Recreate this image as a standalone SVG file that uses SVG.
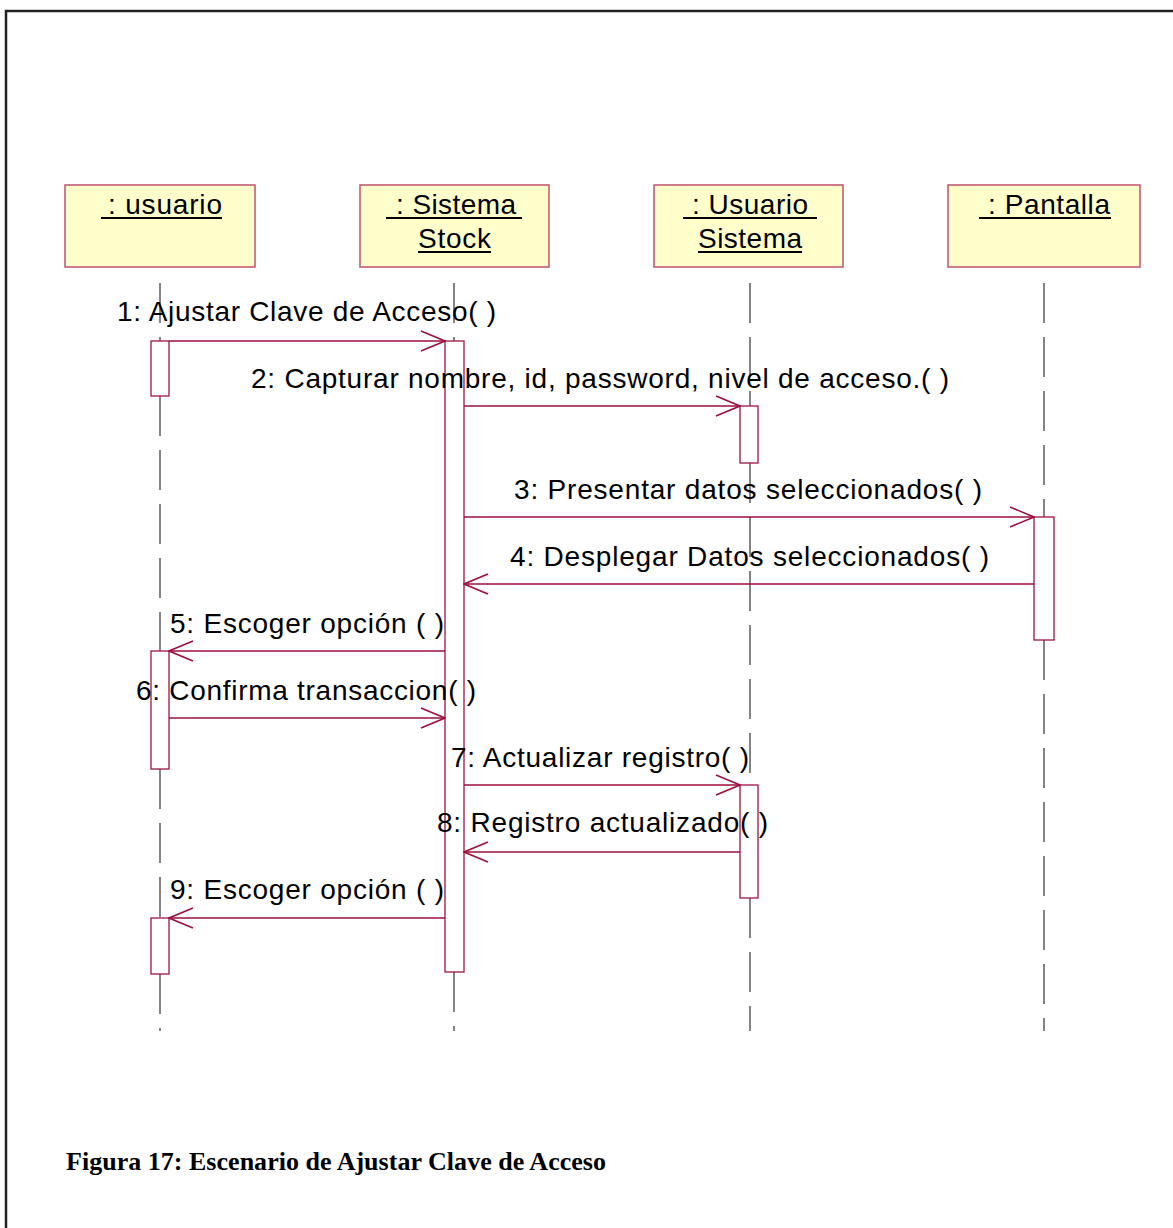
<svg xmlns="http://www.w3.org/2000/svg" width="1173" height="1228" viewBox="0 0 1173 1228">
  <defs>
    <style>
      .frame { fill: none; stroke: #222; stroke-width: 2.5; }
      .obj rect { fill: #FFFFCC; stroke: #C2506F; stroke-width: 1.5; }
      .obj text { font-family: "Liberation Sans", Arial, sans-serif; font-size: 28px; fill: #000; }
      .ul { stroke: #000; stroke-width: 2; }
      .life { stroke: #444; stroke-width: 1.3; stroke-dasharray: 40 14; fill: none; }
      .act { fill: #FFFFFF; stroke: #9E1442; stroke-width: 1.3; }
      .msg { stroke: #9C0E3A; stroke-width: 1.4; fill: none; }
      .lbl { font-family: "Liberation Sans", Arial, sans-serif; font-size: 28px; fill: #000; }
      .caption { font-family: "Liberation Serif", "Times New Roman", serif; font-weight: bold; font-size: 26px; fill: #000; }
    </style>
    <marker id="open" viewBox="0 0 26 22" refX="25" refY="11" markerWidth="26" markerHeight="22" markerUnits="userSpaceOnUse" orient="auto">
      <path d="M1,1 L25,11 L1,21" fill="none" stroke="#9C0E3A" stroke-width="1.5"/>
    </marker>
  </defs>

  <!-- page frame -->
  <path class="frame" d="M6,1228 V11 H1173"/>

  <!-- lifelines, broken around activations -->
  <g id="lifelines">
    <path class="life" d="M160,283 V341 M160,396 V651 M160,769 V918 M160,974 V1031"/>
    <path class="life" d="M454,283 V341 M454,972 V1031"/>
    <path class="life" d="M750,283 V406 M750,463 V785 M750,898 V1031"/>
    <path class="life" d="M1044,283 V517 M1044,640 V1031"/>
  </g>

  <!-- objects -->
  <g id="usuario" class="obj">
    <rect x="65" y="185" width="190" height="82"/>
    <text x="108" y="214" textLength="114" lengthAdjust="spacing">: usuario</text>
    <line class="ul" x1="101" y1="218" x2="222" y2="218"/>
  </g>
  <g id="sistema-stock" class="obj">
    <rect x="360" y="185" width="189" height="82"/>
    <text x="396" y="214" textLength="120" lengthAdjust="spacing">: Sistema</text>
    <line class="ul" x1="386" y1="218" x2="522" y2="218"/>
    <text x="418" y="248" textLength="73" lengthAdjust="spacing">Stock</text>
    <line class="ul" x1="418" y1="252" x2="491" y2="252"/>
  </g>
  <g id="usuario-sistema" class="obj">
    <rect x="654" y="185" width="189" height="82"/>
    <text x="692" y="214" textLength="116" lengthAdjust="spacing">: Usuario</text>
    <line class="ul" x1="683" y1="218" x2="817" y2="218"/>
    <text x="698" y="248" textLength="104" lengthAdjust="spacing">Sistema</text>
    <line class="ul" x1="698" y1="252" x2="802" y2="252"/>
  </g>
  <g id="pantalla" class="obj">
    <rect x="948" y="185" width="192" height="82"/>
    <text x="988" y="214" textLength="122" lengthAdjust="spacing">: Pantalla</text>
    <line class="ul" x1="979" y1="218" x2="1111" y2="218"/>
  </g>

  <!-- activation bars -->
  <g id="activations">
    <rect class="act" x="151" y="341" width="18" height="55"/>
    <rect class="act" x="151" y="651" width="18" height="118"/>
    <rect class="act" x="151" y="918" width="18" height="56"/>
    <rect class="act" x="445" y="341" width="19" height="631"/>
    <rect class="act" x="740" y="406" width="18" height="57"/>
    <rect class="act" x="740" y="785" width="18" height="113"/>
    <rect class="act" x="1034" y="517" width="20" height="123"/>
  </g>

  <!-- messages -->
  <g id="messages">
    <line class="msg" x1="169" y1="341" x2="445" y2="341" marker-end="url(#open)"/>
    <line class="msg" x1="464" y1="406" x2="740" y2="406" marker-end="url(#open)"/>
    <line class="msg" x1="464" y1="517" x2="1034" y2="517" marker-end="url(#open)"/>
    <line class="msg" x1="1034" y1="584" x2="464" y2="584" marker-end="url(#open)"/>
    <line class="msg" x1="445" y1="651" x2="169" y2="651" marker-end="url(#open)"/>
    <line class="msg" x1="169" y1="718" x2="445" y2="718" marker-end="url(#open)"/>
    <line class="msg" x1="464" y1="785" x2="740" y2="785" marker-end="url(#open)"/>
    <line class="msg" x1="740" y1="852" x2="464" y2="852" marker-end="url(#open)"/>
    <line class="msg" x1="445" y1="918" x2="169" y2="918" marker-end="url(#open)"/>
  </g>

  <!-- message labels -->
  <g id="labels" class="lbl">
    <text x="117" y="321" textLength="379" lengthAdjust="spacing">1: Ajustar Clave de Acceso( )</text>
    <text x="251" y="388" textLength="698" lengthAdjust="spacing">2: Capturar nombre, id, password, nivel de acceso.( )</text>
    <text x="514" y="499" textLength="468" lengthAdjust="spacing">3: Presentar datos seleccionados( )</text>
    <text x="510" y="566" textLength="479" lengthAdjust="spacing">4: Desplegar Datos seleccionados( )</text>
    <text x="170" y="633" textLength="274" lengthAdjust="spacing">5: Escoger opción ( )</text>
    <text x="136" y="700" textLength="340" lengthAdjust="spacing">6: Confirma transaccion( )</text>
    <text x="451" y="767" textLength="298" lengthAdjust="spacing">7: Actualizar registro( )</text>
    <text x="437" y="832" textLength="331" lengthAdjust="spacing">8: Registro actualizado( )</text>
    <text x="170" y="899" textLength="274" lengthAdjust="spacing">9: Escoger opción ( )</text>
  </g>

  <text class="caption" x="66" y="1170" textLength="540" lengthAdjust="spacing">Figura 17: Escenario de Ajustar Clave de Acceso</text>
</svg>
